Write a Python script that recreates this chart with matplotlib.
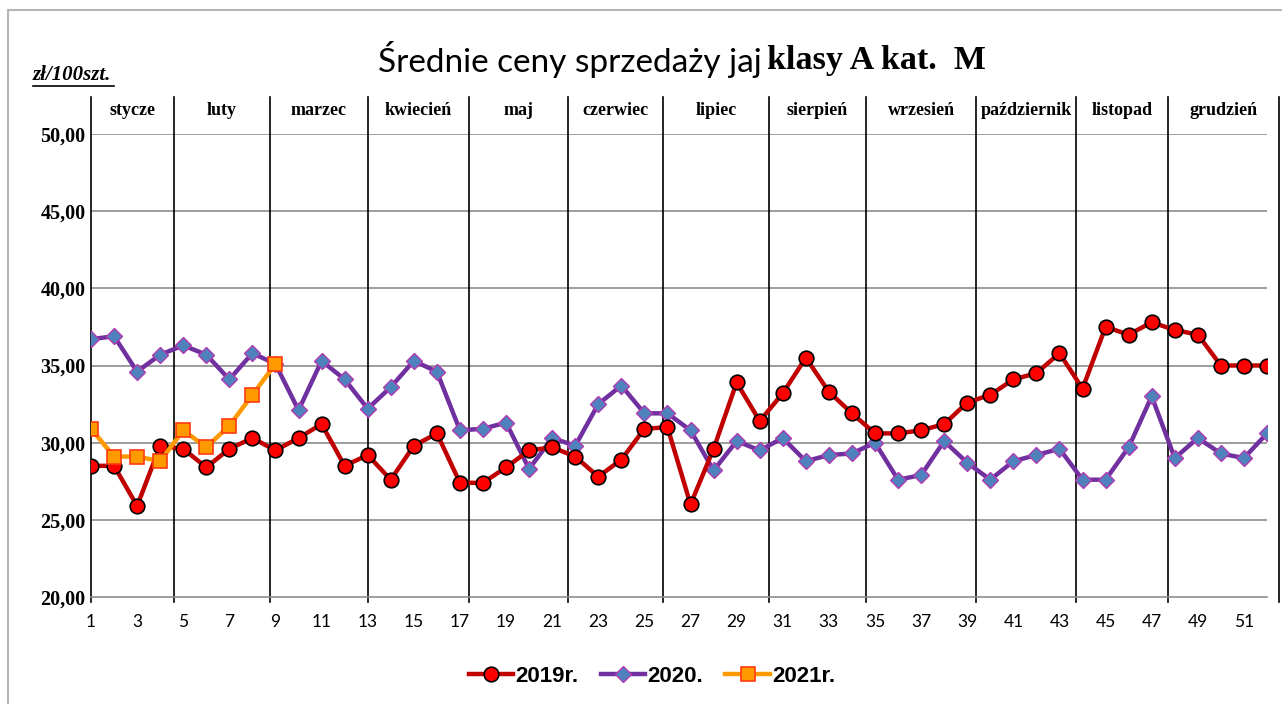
import matplotlib
matplotlib.use("Agg")
import matplotlib.pyplot as plt
from matplotlib.lines import Line2D
from matplotlib.patches import Rectangle

weeks = list(range(1, 53))

y2019 = [28.5, 28.5, 25.9, 29.8, 29.6, 28.4, 29.6, 30.3, 29.5, 30.3,
         31.2, 28.5, 29.2, 27.6, 29.8, 30.6, 27.4, 27.4, 28.4, 29.5,
         29.7, 29.1, 27.8, 28.9, 30.9, 31.0, 26.0, 29.6, 33.9, 31.4,
         33.2, 35.5, 33.3, 31.9, 30.6, 30.6, 30.8, 31.2, 32.6, 33.1,
         34.1, 34.5, 35.8, 33.5, 37.5, 37.0, 37.8, 37.3, 37.0, 35.0,
         35.0, 35.0]
y2020 = [36.7, 36.9, 34.6, 35.7, 36.3, 35.7, 34.1, 35.8, 35.1, 32.1,
         35.3, 34.1, 32.2, 33.6, 35.3, 34.6, 30.8, 30.9, 31.3, 28.3,
         30.3, 29.8, 32.5, 33.7, 31.9, 31.9, 30.8, 28.2, 30.1, 29.5,
         30.3, 28.8, 29.2, 29.3, 30.0, 27.6, 27.9, 30.1, 28.7, 27.6,
         28.8, 29.2, 29.6, 27.6, 27.6, 29.7, 33.0, 29.0, 30.3, 29.3,
         29.0, 30.6]
weeks2021 = list(range(1, 10))
y2021 = [30.9, 29.1, 29.1, 28.8, 30.8, 29.7, 31.1, 33.1, 35.1]

months = ["stycze", "luty", "marzec", "kwiecień", "maj", "czerwiec", "lipiec",
          "sierpień", "wrzesień", "październik", "listopad", "grudzień"]
month_bounds = [1, 4.6, 8.75, 13.0, 17.4, 21.7, 25.8, 30.4, 34.6, 39.4,
                43.7, 47.7, 52.5]

fig = plt.figure(figsize=(12.82, 7.04), dpi=100)
ax = fig.add_axes([91/1282, 1-597/704, (1267-91)/1282, (597-134)/704])

# grid + axes
ax.set_ylim(20, 50)
ax.set_xlim(1, 52)
for v in [25, 30, 35, 40, 45, 50]:
    ax.axhline(v, color="#8c8c8c", lw=1.2, zorder=1)
for s in ["top", "right", "left"]:
    ax.spines[s].set_visible(False)
ax.spines["bottom"].set_color("#8c8c8c")
ax.spines["bottom"].set_linewidth(1.2)

# month separators and labels
for b in month_bounds:
    ax.plot([b, b], [19.7, 52.4], color="black", lw=1.2, clip_on=False, zorder=2)
for i, m in enumerate(months):
    xc = (month_bounds[i] + month_bounds[i+1]) / 2
    ax.text(xc, 51.55, m, ha="center", va="center", fontsize=13,
            fontweight="bold", family="Liberation Serif")

ax.plot(weeks, y2019, color="#c00000", lw=3.2, marker="o", markersize=10.5,
        markerfacecolor="#ff0000", markeredgecolor="black", markeredgewidth=1.2,
        label="2019r.", zorder=4)
ax.plot(weeks, y2020, color="#7030a0", lw=3.2, marker="D", markersize=8,
        markerfacecolor="#4f81bd", markeredgecolor="#b03ab0", markeredgewidth=1,
        label="2020.", zorder=3)
ax.plot(weeks2021, y2021, color="#ff9900", lw=3.2, marker="s", markersize=10,
        markerfacecolor="#ff9900", markeredgecolor="#ff3a10", markeredgewidth=1.2,
        label="2021r.", zorder=5)

ax.set_xticks(range(1, 52, 2))
ax.set_xticklabels([str(w) for w in range(1, 52, 2)], fontsize=12.5, family="Lato")
ax.set_yticks([20, 25, 30, 35, 40, 45, 50])
ax.set_yticklabels(["20,00", "25,00", "30,00", "35,00", "40,00", "45,00", "50,00"],
                   fontsize=14.5, fontweight="bold", family="Liberation Serif")
ax.tick_params(axis="both", length=0)
ax.tick_params(axis="x", pad=12)
ax.tick_params(axis="y", pad=4)

# title
fig.text(762/1282, 1-60/704, "Średnie ceny sprzedaży jaj", ha="right", va="center",
         fontsize=24, family="Lato")
fig.text(767/1282, 1-60/704, "klasy A kat.  M", ha="left", va="center",
         fontsize=24.5, fontweight="bold", family="Liberation Serif")

# unit label
fig.text(33/1282, 1-75/704, "zł/100szt.", ha="left", va="center", fontsize=15,
         fontweight="bold", style="italic", family="Liberation Serif")
fig.add_artist(Line2D([33/1282, 114/1282], [1-86/704, 1-86/704], color="black", lw=1.2))

# frame
fig.add_artist(Rectangle((8/1282, -0.01), 1.1, 1-10/704 + 0.01, fill=False,
                         edgecolor="#b5b5b5", lw=1.5, transform=fig.transFigure))

leg = fig.legend(loc="center", bbox_to_anchor=(652/1282, 1-676/704), ncol=3,
                 frameon=False, handlelength=2.0, columnspacing=1.0, handletextpad=0.1,
                 prop={"family": ["Liberation Sans Narrow", "Liberation Sans"],
                       "weight": "bold", "size": 16})

fig.savefig("out.png", dpi=100)
